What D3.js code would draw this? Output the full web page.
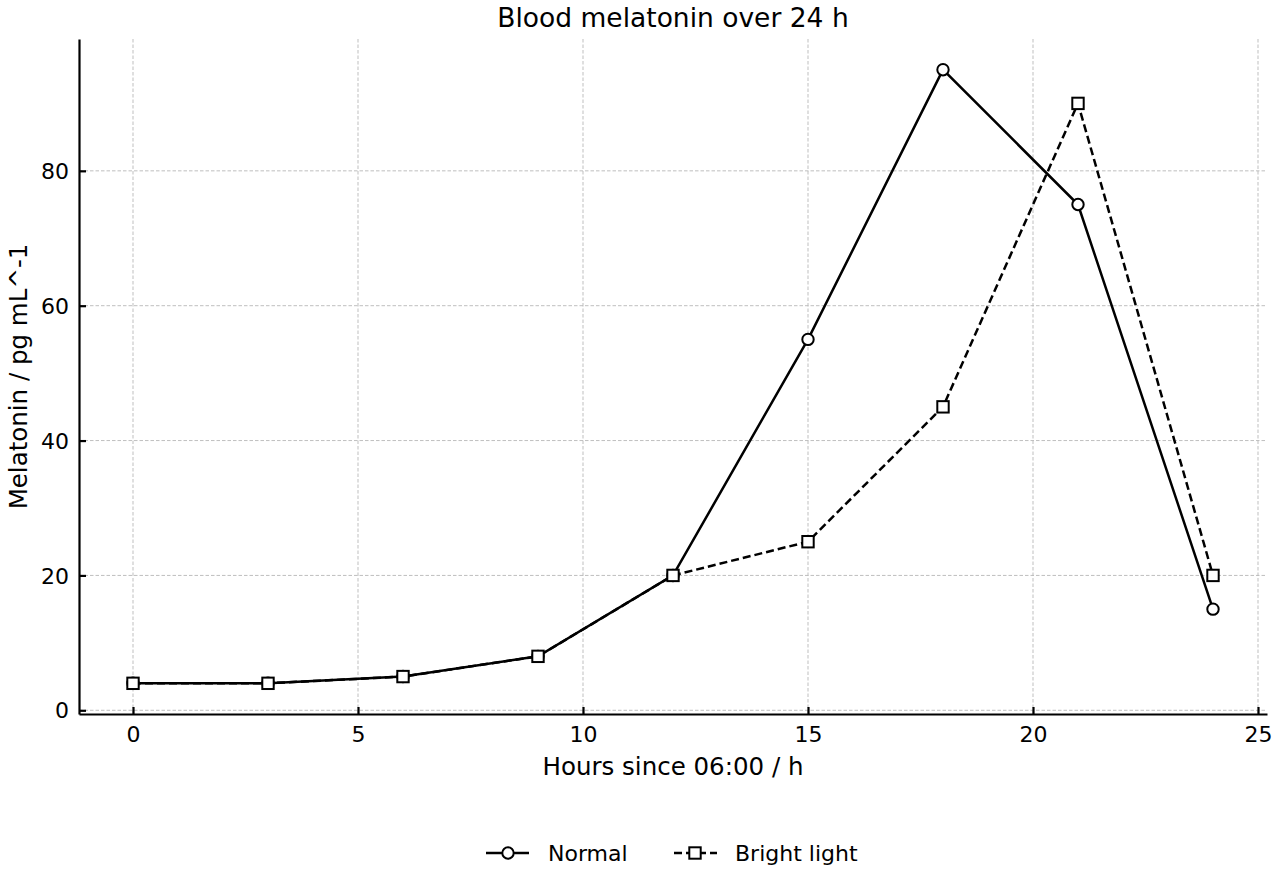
<!DOCTYPE html>
<html>
<head>
<meta charset="utf-8">
<script src="https://cdn.jsdelivr.net/npm/d3@7"></script>
<style>
  body { margin: 0; background: #fff; }
  svg { font-family: "DejaVu Sans", sans-serif; }
</style>
</head>
<body>
<div id="chart"></div>
<script>
// data
var hours = [0, 3, 6, 9, 12, 15, 18, 21, 24];
var normal = [4, 4, 5, 8, 20, 55, 95, 75, 15];
var bright = [4, 4, 5, 8, 20, 25, 45, 90, 20];
var xTicks = [0, 5, 10, 15, 20, 25];
var yTicks = [0, 20, 40, 60, 80];

var W = 1280, H = 880;
var margin = {top: 39, right: 13, bottom: 166, left: 79};
var width = W - margin.left - margin.right,
    height = H - margin.top - margin.bottom;

var svg = d3.select("#chart").append("svg")
    .attr("width", W).attr("height", H);
var g = svg.append("g")
    .attr("transform", "translate(" + margin.left + "," + margin.top + ")");

var x = d3.scaleLinear().domain([-1.2, 25.2]).range([0, width]);
var y = d3.scaleLinear().domain([-0.55, 99.55]).range([height, 0]);

// grid
g.append("g").selectAll("line").data(xTicks).enter().append("line")
    .attr("x1", function (d) { return x(d); }).attr("x2", function (d) { return x(d); })
    .attr("y1", 0).attr("y2", height)
    .attr("stroke", "#b8b8b8").attr("stroke-width", 0.9).attr("stroke-dasharray", "3.5,2");
g.append("g").selectAll("line").data(yTicks).enter().append("line")
    .attr("y1", function (d) { return y(d); }).attr("y2", function (d) { return y(d); })
    .attr("x1", 0).attr("x2", width)
    .attr("stroke", "#b8b8b8").attr("stroke-width", 0.9).attr("stroke-dasharray", "3.5,2");

// axes (ticks pointing inward)
var xAxis = g.append("g").attr("transform", "translate(0," + height + ")")
    .call(d3.axisBottom(x).tickValues(xTicks).tickSize(-7).tickSizeOuter(0).tickPadding(12));
var yAxis = g.append("g")
    .call(d3.axisLeft(y).tickValues(yTicks).tickSize(-7).tickSizeOuter(0).tickPadding(10));
[xAxis, yAxis].forEach(function (a) {
  a.select(".domain").attr("stroke", "#000").attr("stroke-width", 2.2);
  a.selectAll(".tick line").attr("stroke", "#000").attr("stroke-width", 2.2);
  a.selectAll(".tick text").attr("font-size", 22).attr("fill", "#000")
    .style("font-family", "DejaVu Sans, sans-serif");
});
yAxis.selectAll(".tick text").attr("dy", "0.35em");

// lines
var line = d3.line()
    .x(function (d) { return x(d[0]); })
    .y(function (d) { return y(d[1]); });

function drawSeries(vals, dash, marker) {
  var pts = hours.map(function (h, i) { return [h, vals[i]]; });
  g.append("path").datum(pts)
    .attr("d", line).attr("fill", "none").attr("stroke", "#000")
    .attr("stroke-width", 2.5).attr("stroke-dasharray", dash);
  var m = g.append("g").selectAll("x").data(pts).enter();
  if (marker === "circle") {
    m.append("circle")
      .attr("cx", function (d) { return x(d[0]); })
      .attr("cy", function (d) { return y(d[1]); })
      .attr("r", 5.7).attr("fill", "#fff").attr("stroke", "#000").attr("stroke-width", 2);
  } else {
    m.append("rect")
      .attr("x", function (d) { return x(d[0]) - 5.7; })
      .attr("y", function (d) { return y(d[1]) - 5.7; })
      .attr("width", 11.4).attr("height", 11.4)
      .attr("fill", "#fff").attr("stroke", "#000").attr("stroke-width", 2);
  }
}
drawSeries(normal, null, "circle");
drawSeries(bright, "8,4", "square");

// title and labels
svg.append("text").attr("x", margin.left + width / 2).attr("y", 27)
    .attr("text-anchor", "middle").attr("font-size", 26.5).text("Blood melatonin over 24 h");
svg.append("text").attr("x", margin.left + width / 2).attr("y", 775)
    .attr("text-anchor", "middle").attr("font-size", 24.5).text("Hours since 06:00 / h");
svg.append("text")
    .attr("transform", "translate(27," + (margin.top + height / 2) + ") rotate(-90)")
    .attr("text-anchor", "middle").attr("font-size", 24.5).text("Melatonin / pg mL^-1");

// legend
var leg = svg.append("g").attr("transform", "translate(0,853)");
leg.append("line").attr("x1", 486).attr("x2", 529).attr("stroke", "#000").attr("stroke-width", 2.5);
leg.append("circle").attr("cx", 508).attr("r", 5.7).attr("fill", "#fff")
    .attr("stroke", "#000").attr("stroke-width", 2);
leg.append("text").attr("x", 548).attr("y", 8).attr("font-size", 22).text("Normal");
leg.append("line").attr("x1", 674).attr("x2", 717).attr("stroke", "#000")
    .attr("stroke-width", 2.5).attr("stroke-dasharray", "8,4");
leg.append("rect").attr("x", 689.3).attr("y", -5.7).attr("width", 11.4).attr("height", 11.4)
    .attr("fill", "#fff").attr("stroke", "#000").attr("stroke-width", 2);
leg.append("text").attr("x", 735).attr("y", 8).attr("font-size", 22).text("Bright light");
</script>
</body>
</html>
